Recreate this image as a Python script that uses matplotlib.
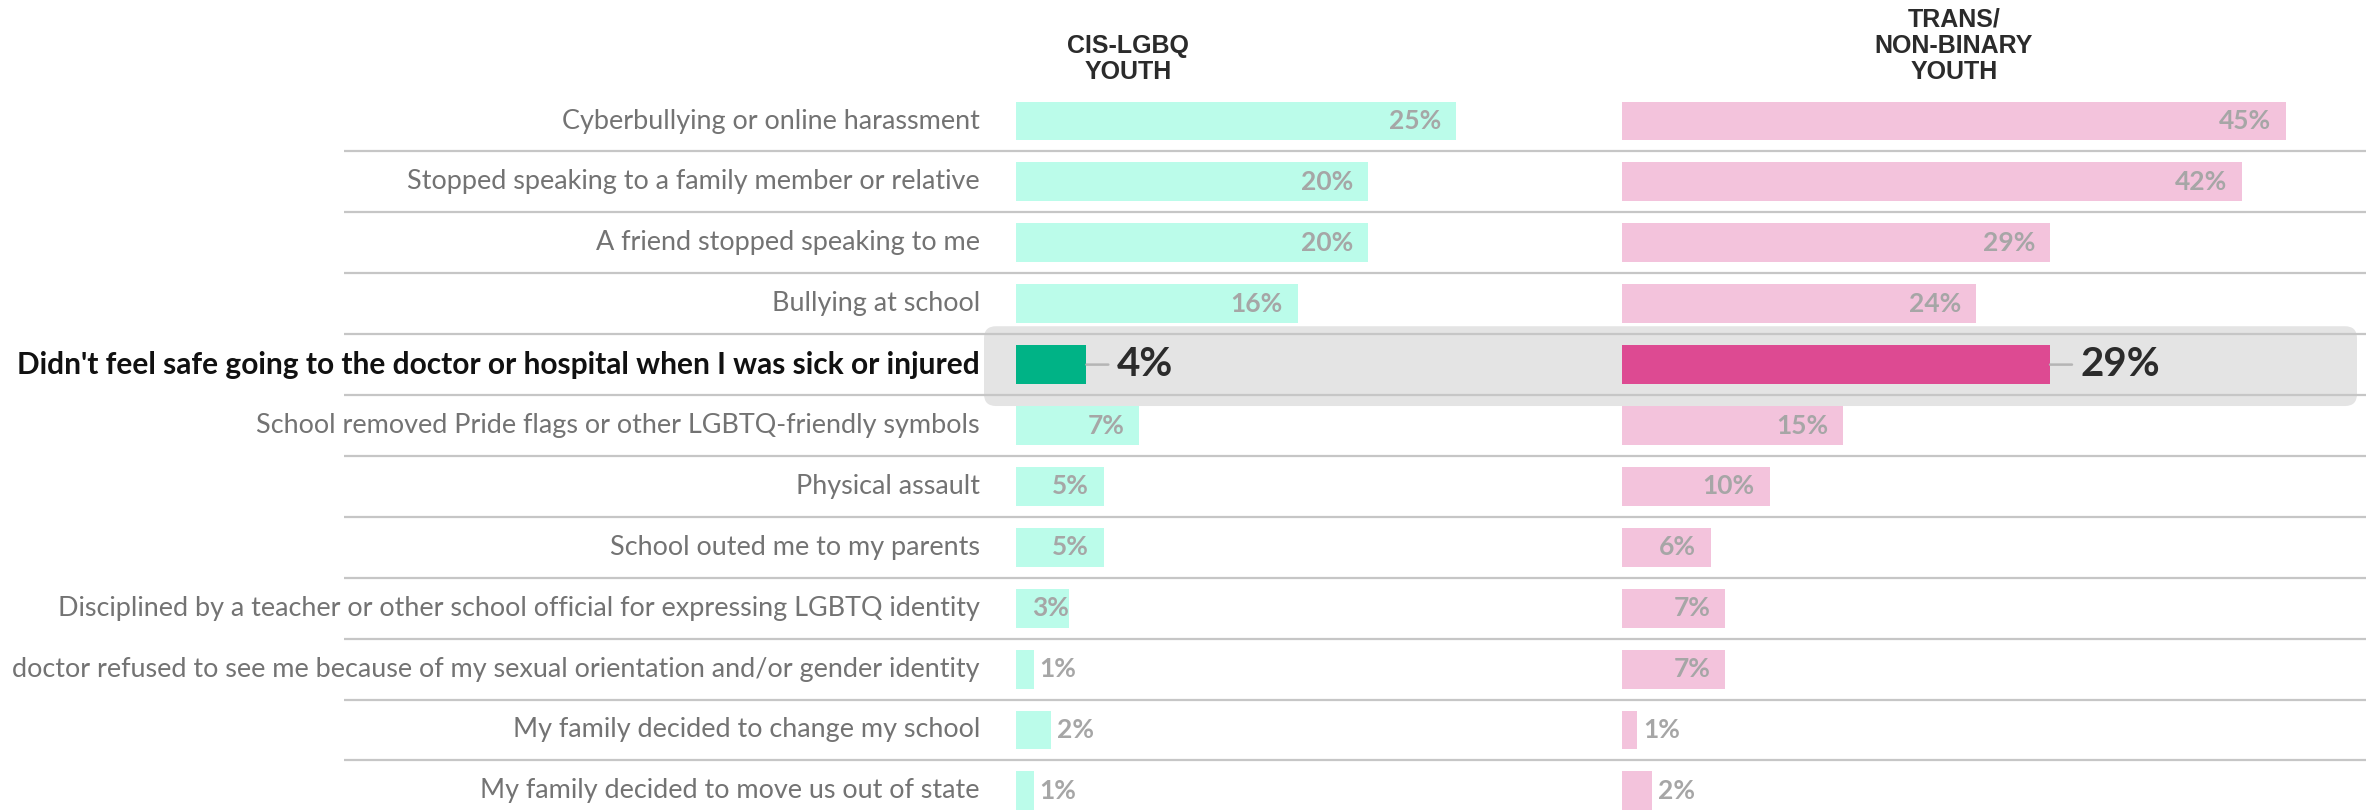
import matplotlib
matplotlib.use("Agg")
import matplotlib.pyplot as plt
from matplotlib.patches import FancyBboxPatch

# data
labels = [
    "Cyberbullying or online harassment",
    "Stopped speaking to a family member or relative",
    "A friend stopped speaking to me",
    "Bullying at school",
    "Didn't feel safe going to the doctor or hospital when I was sick or injured",
    "School removed Pride flags or other LGBTQ-friendly symbols",
    "Physical assault",
    "School outed me to my parents",
    "Disciplined by a teacher or other school official for expressing LGBTQ identity",
    "doctor refused to see me because of my sexual orientation and/or gender identity",
    "My family decided to change my school",
    "My family decided to move us out of state",
]
cis = [25, 20, 20, 16, 4, 7, 5, 5, 3, 1, 2, 1]
trans = [45, 42, 29, 24, 29, 15, 10, 6, 7, 7, 1, 2]
highlight = 4
headers = ["CIS-LGBQ\nYOUTH", "TRANS/\nNON-BINARY\nYOUTH"]

W, H = 2366, 810
fig = plt.figure(figsize=(W / 100, H / 100), dpi=100)
fig.patch.set_facecolor("white")

# row layout in pixels
top, step = 121, 60.9
n = len(labels)
ylim = ((H - top) / step, -top / step)


def px_axes(x0, x1):
    ax = fig.add_axes([x0 / W, 0, (x1 - x0) / W, 1])
    ax.set_ylim(*ylim)
    ax.axis("off")
    return ax


def fit_size(text, width, **kw):
    # font size that makes text about `width` pixels wide
    t = fig.text(0, 0, text, fontsize=20, **kw)
    w = t.get_window_extent(fig.canvas.get_renderer()).width
    t.remove()
    return 20 * width / w


bg = px_axes(0, W)
bg.set_xlim(0, W)

# highlight box
box = FancyBboxPatch((984, highlight - 0.63), 2357 - 984, 1.31,
                     boxstyle="round,pad=0,rounding_size=12",
                     mutation_aspect=1 / step, fc="#e4e4e4", ec="none")
bg.add_patch(box)

for i in range(n - 1):
    bg.plot([344, W], [i + 0.5, i + 0.5], color="#c6c6c6", lw=1.6,
            solid_capstyle="butt")

lab_size = fit_size(labels[9], 973, family="Lato")
hl_size = fit_size(labels[highlight], 964, family="Lato", fontweight="bold")

for i, lab in enumerate(labels):
    hl = i == highlight
    bg.text(980, i, lab, ha="right", va="center", family="Lato",
            fontsize=hl_size if hl else lab_size,
            color="#111111" if hl else "#737373",
            fontweight="bold" if hl else "normal")

panels = [
    (1016, 17.6, cis, "#bbfcea", "#00b386", 1128),
    (1622, 14.76, trans, "#f3c3dc", "#dd4a92", 1954),
]

for (x0, scale, vals, light, dark, hx), head in zip(panels, headers):
    ax = px_axes(x0, W)
    ax.set_xlim(0, (W - x0) / scale)
    colors = [dark if i == highlight else light for i in range(n)]
    ax.barh(range(n), vals, height=0.64, color=colors)
    for i, v in enumerate(vals):
        if i == highlight:
            ax.annotate(f"{v}%", xy=(v, i), xytext=(30, 0),
                        textcoords="offset pixels", ha="left", va="center",
                        family="Lato", fontweight="bold", fontsize=29,
                        color="#2b2b2b",
                        arrowprops=dict(arrowstyle="-", color="#b5b5b5",
                                        lw=1.8, shrinkA=3.8, shrinkB=0))
            continue
        if v >= 3:
            off, ha = (-15 if v >= 4 else 0), "right"
        else:
            off, ha = 6, "left"
        ax.annotate(f"{v}%", xy=(v, i), xytext=(off, 0),
                    textcoords="offset pixels", ha=ha, va="center",
                    family="Lato", fontweight="bold", fontsize=19,
                    color="#a6a6a6")
    fig.text(hx / W, 1 - 84 / H, head, ha="center", va="bottom",
             multialignment="center", family="Liberation Sans",
             fontweight="bold", fontsize=18, linespacing=1.12,
             color="#2b2b2b")

fig.savefig("out.png", dpi=100, facecolor="white")
